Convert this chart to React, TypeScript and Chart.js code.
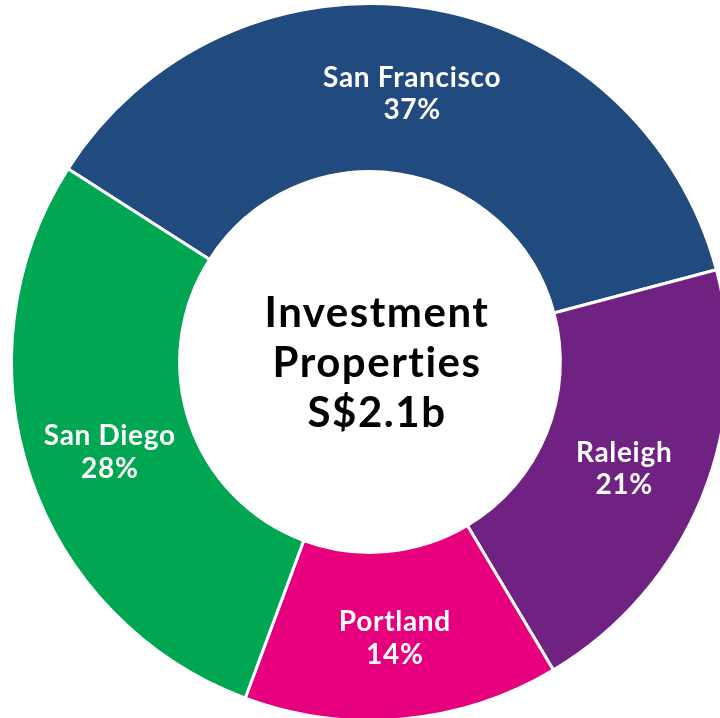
import React, { useEffect, useRef } from 'react';
import { Chart, registerables } from 'chart.js';

Chart.register(...registerables);

const categories = ['San Francisco', 'Raleigh', 'Portland', 'San Diego'];
const shares = [36.8, 20.6, 14.2, 28.4];
const shareLabels = ['37%', '21%', '14%', '28%'];
const colors = ['#214A7E', '#702283', '#E6007E', '#00A651'];
const centerLines = ['Investment', 'Properties', 'S$2.1b'];

const FONT = 'Lato, "Open Sans", sans-serif';

const labelPlugin = {
  id: 'sliceLabels',
  afterDatasetsDraw(chart: any) {
    const ctx = chart.ctx;
    const meta = chart.getDatasetMeta(0);
    ctx.save();
    ctx.textAlign = 'center';
    ctx.textBaseline = 'alphabetic';
    ctx.fillStyle = '#ffffff';
    ctx.font = `bold 28px ${FONT}`;
    (ctx as any).letterSpacing = '0.7px';
    meta.data.forEach((arc: any, i: number) => {
      const p = arc.tooltipPosition(false);
      ctx.fillText(categories[i], p.x, p.y - 4);
      ctx.fillText(shareLabels[i], p.x, p.y + 28.5);
    });
    // centre text
    const first = meta.data[0];
    const cx = first.x + 7;
    const cy = first.y;
    ctx.fillStyle = '#000000';
    ctx.font = `bold 42px ${FONT}`;
    (ctx as any).letterSpacing = '1.5px';
    const offs = [-35, 15, 65];
    centerLines.forEach((t, i) => ctx.fillText(t, cx, cy + offs[i]));
    ctx.restore();
  },
};

export default function App() {
  const ref = useRef<HTMLCanvasElement>(null);
  useEffect(() => {
    if (!ref.current) return;
    const chart = new Chart(ref.current, {
      type: 'doughnut',
      data: {
        labels: categories,
        datasets: [
          {
            data: shares,
            backgroundColor: colors,
            borderColor: '#ffffff',
            borderWidth: 3,
            hoverOffset: 0,
          },
        ],
      },
      options: {
        animation: false,
        responsive: false,
        devicePixelRatio: 1,
        rotation: -57.4,
        radius: 358.5,
        cutout: '53.1%',
        layout: { padding: 0 },
        plugins: {
          legend: { display: false },
          tooltip: { enabled: false },
        },
        events: [],
      },
      plugins: [labelPlugin],
    });
    return () => chart.destroy();
  }, []);
  return (
    <div
      style={{
        position: 'fixed',
        left: 0,
        top: 0,
        width: 720,
        height: 718,
        overflow: 'hidden',
        background: '#ffffff',
      }}
    >
      <canvas
        ref={ref}
        width={740}
        height={724}
        style={{ position: 'absolute', left: 0, top: 0, width: 740, height: 724, display: 'block' }}
      />
    </div>
  );
}
